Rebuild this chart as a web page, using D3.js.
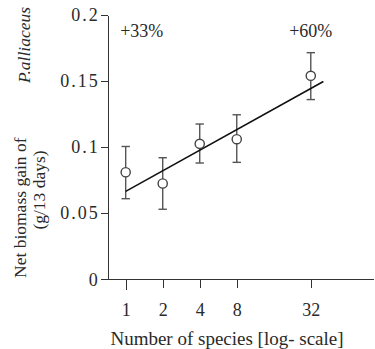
<!DOCTYPE html>
<html lang="en">
<head>
<meta charset="utf-8">
<title>Net biomass gain of P. alliaceus</title>
<script src="https://cdn.jsdelivr.net/npm/d3@7"></script>
<style>
  body { margin: 0; background: #fff; }
  svg text { fill: #2a2a2a; }
  .axis path, .axis line { stroke: #333; stroke-width: 1.3; shape-rendering: crispEdges; }
</style>
</head>
<body>
<script>
// data
var species = [1, 2, 4, 8, 32];
var meanGain = [0.081, 0.0725, 0.1025, 0.106, 0.154];
var errLow = [0.061, 0.053, 0.088, 0.0885, 0.136];
var errHigh = [0.1005, 0.092, 0.1175, 0.1245, 0.1715];
var fitEnds = [[1, 0.0665], [40.5, 0.1497]];
var yTicks = [0, 0.05, 0.1, 0.15, 0.2];
var yTickLabels = ["0", "0.05", "0.1", "0.15", "0.2"];
var xTickLabels = ["1", "2", "4", "8", "32"];
var notes = [{n: 1.35, text: "+33%"}, {n: 32, text: "+60%"}];

var serif = "'Liberation Serif', 'Times New Roman', serif";
var w = 375, h = 349;
var svg = d3.select("body").append("svg").attr("width", w).attr("height", h)
  .attr("font-family", serif);

var x = d3.scaleLog().base(2).domain([0.714, 102.6]).range([107.7, 373]);
var y = d3.scaleLinear().domain([0, 0.2]).range([279.3, 15]);

// y axis
var yAxis = d3.axisLeft(y).tickValues(yTicks)
  .tickFormat(function(d, i) { return yTickLabels[i]; })
  .tickSize(7).tickPadding(1).tickSizeOuter(0);
svg.append("g").attr("class", "axis").attr("transform", "translate(107.7,0)").call(yAxis)
  .attr("font-family", serif).attr("font-size", 18)
  .selectAll("text").attr("letter-spacing", "2px");

// x axis
var xAxis = d3.axisBottom(x).tickValues(species)
  .tickFormat(function(d, i) { return xTickLabels[i]; })
  .tickSize(9).tickPadding(15).tickSizeOuter(0);
var gx = svg.append("g").attr("class", "axis").attr("transform", "translate(0,279.3)").call(xAxis)
  .attr("font-family", serif).attr("font-size", 18);
// first tick is drawn a little longer in the original
gx.selectAll(".tick line").filter(function(d) { return d === 1; }).attr("y2", 11);

var pts = species.map(function(s, i) {
  return {n: s, m: meanGain[i], lo: errLow[i], hi: errHigh[i]};
});

// error bars
var eb = svg.append("g").attr("stroke", "#555").attr("stroke-width", 1.4);
eb.selectAll(".v").data(pts).enter().append("line")
  .attr("x1", function(d) { return x(d.n); }).attr("x2", function(d) { return x(d.n); })
  .attr("y1", function(d) { return y(d.lo); }).attr("y2", function(d) { return y(d.hi); });
eb.selectAll(".t").data(pts).enter().append("line")
  .attr("x1", function(d) { return x(d.n) - 4.2; }).attr("x2", function(d) { return x(d.n) + 4.2; })
  .attr("y1", function(d) { return y(d.hi); }).attr("y2", function(d) { return y(d.hi); });
eb.selectAll(".b").data(pts).enter().append("line")
  .attr("x1", function(d) { return x(d.n) - 4.2; }).attr("x2", function(d) { return x(d.n) + 4.2; })
  .attr("y1", function(d) { return y(d.lo); }).attr("y2", function(d) { return y(d.lo); });

// regression line
svg.append("line")
  .attr("x1", x(fitEnds[0][0])).attr("y1", y(fitEnds[0][1]))
  .attr("x2", x(fitEnds[1][0])).attr("y2", y(fitEnds[1][1]))
  .attr("stroke", "#111").attr("stroke-width", 1.6);

// open circles
svg.selectAll("circle").data(pts).enter().append("circle")
  .attr("cx", function(d) { return x(d.n); })
  .attr("cy", function(d) { return y(d.m); })
  .attr("r", 4.6)
  .attr("fill", "#fff").attr("stroke", "#444").attr("stroke-width", 1.4);

// percentage notes
svg.selectAll(".note").data(notes).enter().append("text")
  .attr("x", function(d) { return x(d.n); })
  .attr("y", 37)
  .attr("text-anchor", "middle")
  .attr("font-size", 18)
  .text(function(d) { return d.text; });

// axis titles
svg.append("text")
  .attr("x", 227).attr("y", 345)
  .attr("text-anchor", "middle")
  .attr("font-size", 19)
  .text("Number of species [log- scale]");

svg.append("text")
  .attr("transform", "translate(26,278) rotate(-90)")
  .attr("font-size", 17.5)
  .text("Net biomass gain of");

svg.append("text")
  .attr("transform", "translate(30,7) rotate(-90)")
  .attr("text-anchor", "end")
  .attr("font-size", 17.5)
  .attr("font-style", "italic")
  .text("P.alliaceus");

svg.append("text")
  .attr("transform", "translate(45,190) rotate(-90)")
  .attr("text-anchor", "middle")
  .attr("font-size", 17.5)
  .text("(g/13 days)");
</script>
</body>
</html>
